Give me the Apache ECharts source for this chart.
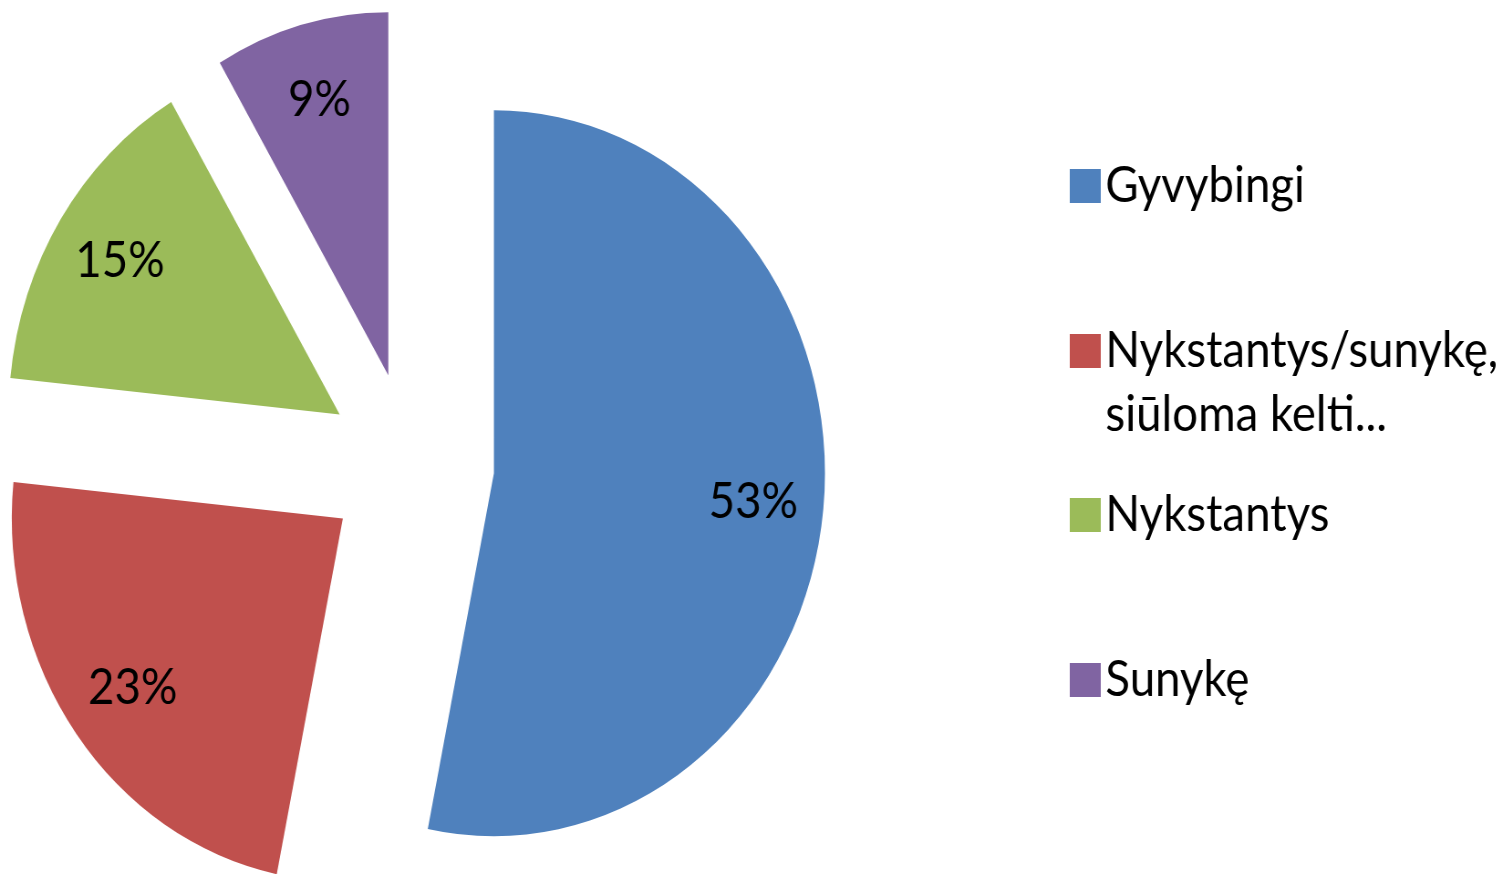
<!DOCTYPE html>
<html lang="lt">
<head>
    <meta charset="UTF-8">
    <title>Pie</title>
    <script src="https://cdn.jsdelivr.net/npm/echarts@6/dist/echarts.min.js"></script>
    <style>
        html, body { margin: 0; padding: 0; background: #fff; overflow: hidden; }
        /* the original picture is a bit squeezed horizontally */
        #chart { width: 1658px; height: 874px; transform: scaleX(0.912); transform-origin: 0 0; }
    </style>
</head>
<body>
<div id="chart"></div>
<script>
    var categories = ['Gyvybingi', 'Nykstantys/sunykę, siūloma kelti...', 'Nykstantys', 'Sunykę'];
    var values = [53.2, 23.4, 14.9, 8.5];
    var colors = ['#4F81BD', '#C0504D', '#9BBB59', '#8064A2'];

    var mychart = echarts.init(document.getElementById('chart'));
    var fontName = 'Lato';
    var center = [450, 464];
    var R = 363;

    function pieData() {
        var list = [];
        for (var i = 0; i < categories.length; i++) {
            list.push({ name: categories[i], value: values[i], selected: true });
        }
        return list;
    }

    // one legend per entry so the spacing matches the picture
    var legendTops = [158, 255, 487, 652];
    var legends = [];
    for (var i = 0; i < categories.length; i++) {
        var twoLines = categories[i].indexOf(', ') > 0;
        legends.push({
            orient: 'vertical',
            left: 1173,
            top: legendTops[i],
            padding: 0,
            itemWidth: 34,
            itemHeight: 34,
            icon: 'rect',
            selectedMode: false,
            data: [categories[i]],
            // empty first line keeps the icon level with the first text line
            formatter: function (name) {
                return name.indexOf(', ') > 0 ? ' \n' + name.replace(', ', ',\n') : name;
            },
            textStyle: {
                fontFamily: fontName,
                fontSize: 50,
                lineHeight: twoLines ? 64 : 56,
                color: '#000'
            }
        });
    }

    var option = {
        animation: false,
        color: colors,
        legend: legends,
        series: [
            {
                name: 'pie',
                type: 'pie',
                center: center,
                radius: R,
                selectedMode: 'multiple',
                selectedOffset: 92,
                label: { show: false },
                labelLine: { show: false },
                emphasis: { disabled: true },
                data: pieData()
            },
            {
                // invisible ring, only used to put the labels further out
                name: 'labels',
                type: 'pie',
                center: center,
                radius: [203, R],
                selectedMode: 'multiple',
                selectedOffset: 92,
                percentPrecision: 0,
                silent: true,
                itemStyle: { color: 'rgba(0,0,0,0)' },
                label: {
                    show: true,
                    position: 'inside',
                    formatter: '{d}%',
                    fontFamily: fontName,
                    fontSize: 50,
                    color: '#000'
                },
                labelLine: { show: false },
                data: pieData()
            }
        ]
    };

    mychart.setOption(option);
</script>
</body>
</html>
